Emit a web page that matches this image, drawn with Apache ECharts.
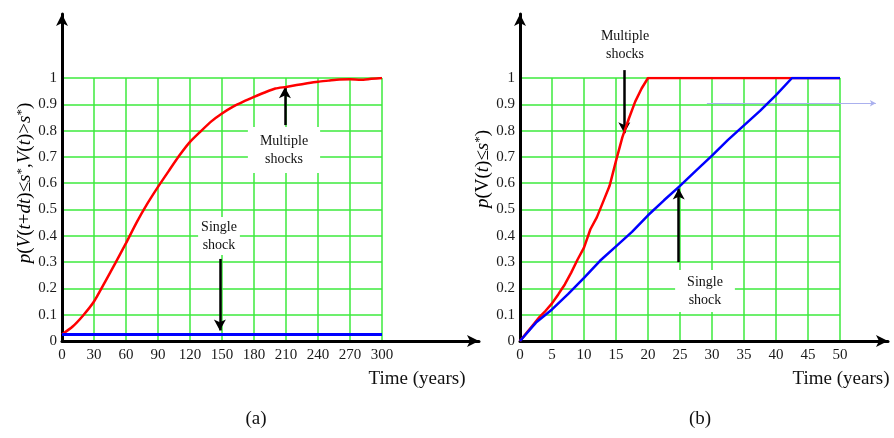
<!DOCTYPE html>
<html>
<head>
<meta charset="utf-8">
<script src="https://cdn.jsdelivr.net/npm/echarts@6/dist/echarts.min.js"></script>
<style>
  html, body { margin: 0; padding: 0; background: #fff; }
  #chart { width: 894px; height: 438px; }
</style>
</head>
<body>
<div id="chart"></div>
<script>
// ---- Panel (a): joint probability over 0..300 years ----
const timeA = [0,10,20,30,40,50,60,70,80,90,100,110,120,130,140,150,160,170,180,190,200,210,220,230,240,250,260,270,280,290,300];
const multipleShocksA = [0.025,0.055,0.098,0.15,0.222,0.296,0.372,0.451,0.522,0.586,0.646,0.705,0.757,0.797,0.835,0.865,0.89,0.91,0.928,0.945,0.96,0.966,0.973,0.98,0.986,0.99,0.994,0.995,0.993,0.997,1.0];
const singleTimeA = [0, 300];
const singleShockA = [0.025, 0.025];

// ---- Panel (b): cumulative probability over 0..50 years ----
const multipleTimeB = [0,1,2,3,4,5,6,7,8,9,10,11,12,13,14,15,16,17,18,19,20,50];
const multipleShocksB = [0,0.03,0.06,0.09,0.115,0.143,0.178,0.215,0.26,0.31,0.355,0.425,0.47,0.53,0.59,0.685,0.775,0.845,0.91,0.96,1.0,1.0];
const singleTimeB = [0,2.5,5,7.5,10,12.5,15,17.5,20,22.5,25,27.5,30,32.5,35,37.5,40,42.5,50];
const singleShockB = [0,0.07,0.12,0.178,0.24,0.305,0.36,0.415,0.478,0.535,0.59,0.648,0.705,0.765,0.82,0.875,0.935,1.0,1.0];

// Axis tick settings
const xMaxA = 300, xStepA = 30;
const xMaxB = 50, xStepB = 5;
const yMax = 1, yStep = 0.1;

const zip = (xs, ys) => xs.map((x, i) => [x, ys[i]]);

const SERIF = '"Liberation Serif", "Times New Roman", serif';
const GRID_GREEN = '#3dea3d';

// geometry of each panel (inner plot box and the outer arrowed axes)
const plotTop = 78, plotH = 263, plotW = 320;
const axisTop = 14;                 // y-axis line end (arrow tip a bit above)
const leftA = 62, leftB = 520;
const outerWA = 417, outerWB = 368; // x-axis line lengths
const outerYMax = (plotTop + plotH - axisTop) / plotH;
const outerXMaxA = outerWA / plotW * xMaxA;
const outerXMaxB = outerWB / plotW * xMaxB;

function innerX(grid, max, step) {
  return [
    { gridIndex: grid, type: 'value', min: 0, max: max, interval: step,
      axisLine: { show: false }, axisTick: { show: false },
      axisLabel: { fontFamily: SERIF, fontSize: 15, color: '#1a1a1a', margin: 7 },
      splitLine: { show: true, lineStyle: { color: GRID_GREEN, width: 1.5 } } },
    { gridIndex: grid, type: 'value', position: 'top', min: 0, max: max,
      axisLine: { show: true, lineStyle: { color: '#000', width: 1 } },
      axisTick: { show: false }, axisLabel: { show: false }, splitLine: { show: false } }
  ];
}
function innerY(grid, rightColor) {
  return [
    { gridIndex: grid, type: 'value', min: 0, max: yMax, interval: yStep,
      axisLine: { show: false }, axisTick: { show: false },
      axisLabel: { fontFamily: SERIF, fontSize: 15, color: '#1a1a1a', margin: 5,
        formatter: v => String(+v.toFixed(1)) },
      splitLine: { show: true, lineStyle: { color: GRID_GREEN, width: 1.5 } } },
    { gridIndex: grid, type: 'value', position: 'right', min: 0, max: yMax,
      axisLine: { show: true, lineStyle: { color: rightColor, width: 2 } },
      axisTick: { show: false }, axisLabel: { show: false }, splitLine: { show: false } }
  ];
}
function outerAxis(grid, max) {
  return { gridIndex: grid, type: 'value', min: 0, max: max,
    axisLine: { show: true, symbol: ['none', 'arrow'], symbolSize: [9, 12],
      lineStyle: { color: '#000', width: 3 } },
    axisTick: { show: false }, axisLabel: { show: false }, splitLine: { show: false } };
}

const arrowStyle = { color: '#000', width: 2.5, type: 'solid' };
function arrows(xIdx, yIdx, lines, style, size) {
  return {
    type: 'line', xAxisIndex: xIdx, yAxisIndex: yIdx, data: [], silent: true,
    markLine: {
      silent: true, symbol: ['none', 'arrow'], symbolSize: size || [9, 11],
      label: { show: false }, lineStyle: style || arrowStyle,
      data: lines.map(l => [{ coord: l[0] }, { coord: l[1] }])
    }
  };
}

const chart = echarts.init(document.getElementById('chart'), null, { renderer: 'canvas' });

const labelRich = {
  it: { fontFamily: SERIF, fontSize: 19, fontStyle: 'italic', color: '#111' },
  n: { fontFamily: SERIF, fontSize: 19, color: '#111' },
  sup: { fontFamily: SERIF, fontSize: 13, color: '#111', verticalAlign: 'top' }
};

function noteText(x, y, text, pad) {
  return { type: 'text', x: x, y: y, z: 100,
    style: { text: text, font: '14px ' + SERIF, fill: '#111', align: 'center',
      verticalAlign: 'middle', lineHeight: 18,
      backgroundColor: pad ? '#fff' : null, padding: pad || 0 } };
}
function plainText(x, y, text, size) {
  return { type: 'text', x: x, y: y, z: 100,
    style: { text: text, font: size + 'px ' + SERIF, fill: '#111', align: 'center', verticalAlign: 'middle' } };
}

chart.setOption({
  animation: false,
  backgroundColor: '#fff',
  grid: [
    { left: leftA, top: plotTop, width: plotW, height: plotH },
    { left: leftA, top: axisTop, width: outerWA, height: plotTop + plotH - axisTop },
    { left: leftB, top: plotTop, width: plotW, height: plotH },
    { left: leftB, top: axisTop, width: outerWB, height: plotTop + plotH - axisTop }
  ],
  xAxis: [
    ...innerX(0, xMaxA, xStepA),
    outerAxis(1, outerXMaxA),
    ...innerX(2, xMaxB, xStepB),
    outerAxis(3, outerXMaxB)
  ],
  yAxis: [
    ...innerY(0, '#8a8a8a'),
    outerAxis(1, outerYMax),
    ...innerY(2, '#1f3a1f'),
    outerAxis(3, outerYMax)
  ],
  series: [
    { name: 'Multiple shocks (a)', type: 'line', xAxisIndex: 0, yAxisIndex: 0,
      data: zip(timeA, multipleShocksA), showSymbol: false, symbol: 'none', smooth: 0.2,
      lineStyle: { color: '#ff0000', width: 2.5 }, z: 5 },
    { name: 'Single shock (a)', type: 'line', xAxisIndex: 0, yAxisIndex: 0,
      data: zip(singleTimeA, singleShockA), showSymbol: false, symbol: 'none',
      lineStyle: { color: '#0000ff', width: 3 }, z: 6 },
    { name: 'Multiple shocks (b)', type: 'line', xAxisIndex: 3, yAxisIndex: 3,
      data: zip(multipleTimeB, multipleShocksB), showSymbol: false, symbol: 'none',
      lineStyle: { color: '#ff0000', width: 2.5 }, z: 5 },
    { name: 'Single shock (b)', type: 'line', xAxisIndex: 3, yAxisIndex: 3,
      data: zip(singleTimeB, singleShockB), showSymbol: false, symbol: 'none',
      lineStyle: { color: '#0000ff', width: 2.5 }, z: 6 },
    // annotation arrows, panel (a)
    arrows(2, 2, [
      [[209, 0.821], [209, 0.965]],
      [[148, 0.312], [148, 0.04]]
    ]),
    // annotation arrows, panel (b)
    arrows(5, 5, [
      [[16.3, 1.03], [16.3, 0.79]],
      [[24.8, 0.30], [24.8, 0.58]]
    ]),
    // thin pointer line at 0.9 in panel (b)
    arrows(5, 5, [
      [[29.2, 0.904], [55.6, 0.904]]
    ], { color: '#aab0ee', width: 1.2, type: 'solid' }, [5, 6])
  ],
  graphic: [
    noteText(284, 150, 'Multiple\nshocks', [5, 12]),
    noteText(219, 236, 'Single\nshock', [1, 3]),
    noteText(625, 45, 'Multiple\nshocks', 0),
    noteText(705, 291, 'Single\nshock', [3, 12]),
    plainText(417, 379, 'Time (years)', 19),
    plainText(841, 379, 'Time (years)', 19),
    plainText(256, 419, '(a)', 19),
    plainText(700, 419, '(b)', 19),
    { type: 'text', x: 25, y: 183, rotation: Math.PI / 2, z: 100,
      style: { text: '{it|p}{n|(}{it|V}{n|(}{it|t}{n|+}{it|dt}{n|)≤}{it|s}{sup|*}{n|,}{it|V}{n|(}{it|t}{n|)>}{it|s}{sup|*}{n|)}',
        rich: labelRich, align: 'center', verticalAlign: 'middle', font: '19px ' + SERIF } },
    { type: 'text', x: 483, y: 169, rotation: Math.PI / 2, z: 100,
      style: { text: '{it|p}{n|(}{n|V}{n|(}{it|t}{n|)≤}{it|s}{sup|*}{n|)}',
        rich: labelRich, align: 'center', verticalAlign: 'middle', font: '19px ' + SERIF } }
  ]
});
</script>
</body>
</html>
